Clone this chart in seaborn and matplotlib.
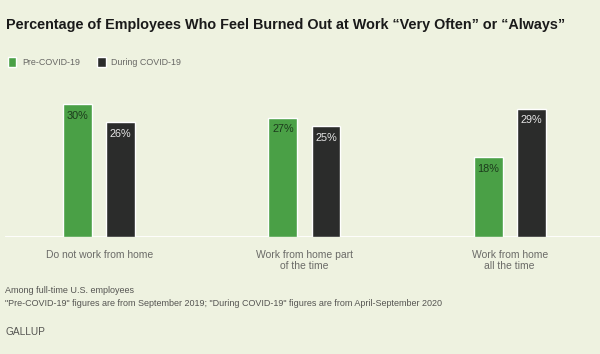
import pandas as pd
import seaborn as sns
import matplotlib.pyplot as plt

# data
groups = ["Do not work from home", "Work from home part\nof the time", "Work from home\nall the time"]
periods = ["Pre-COVID-19", "During COVID-19"]
pre_covid = [30, 27, 18]
during_covid = [26, 25, 29]

df = pd.DataFrame({
    "group": groups * 2,
    "period": [periods[0]] * 3 + [periods[1]] * 3,
    "pct": pre_covid + during_covid,
})

bg = "#eef2e0"
green = "#4aa046"
dark = "#2b2c2b"

sns.set_style("white")
plt.rcParams['font.family'] = ['Liberation Sans', 'DejaVu Sans']

fig = plt.figure(figsize=(6, 3.54), dpi=100, facecolor=bg)
ax = fig.add_axes([0.008, 0.3305, 0.992, 0.4124], facecolor=bg)

sns.barplot(data=df, x="group", y="pct", hue="period", hue_order=periods,
            palette=[green, dark], width=0.42, gap=0.33, saturation=1,
            ax=ax, legend=True)

ax.set_ylim(0, 33)
ax.set_xlim(-0.46, 2.44)
ax.axhline(0, color="white", lw=2, zorder=0.5)
for s in ax.spines.values():
    s.set_visible(False)
ax.set_yticks([])
ax.set_xlabel("")
ax.set_ylabel("")
ax.tick_params(axis="x", length=0, pad=9, labelsize=7.5, labelcolor="#6b6b68")
for lbl in ax.get_xticklabels():
    lbl.set_multialignment("center")

# value labels inside the bar tops
label_colors = ["#1c3a1c", "#e6e6e6"]
for cont, col in zip(ax.containers, label_colors):
    ax.bar_label(cont, labels=[f"{int(v)}%" for v in cont.datavalues],
                 padding=-12, fontsize=7.8, color=col)

handles, labels = ax.get_legend_handles_labels()
ax.legend(handles, labels, loc="upper left", bbox_to_anchor=(0.0, 0.862),
          bbox_transform=fig.transFigure, ncol=2, frameon=False,
          handlelength=0.95, handleheight=1.4, handletextpad=0.6,
          columnspacing=2.0, fontsize=6.4, labelcolor="#666663")

fig.text(0.01, 0.93, "Percentage of Employees Who Feel Burned Out at Work \u201cVery Often\u201d or \u201cAlways\u201d",
         fontsize=10.4, fontweight="bold", color="#1a1a1a", va="center")
fig.text(0.009, 0.178, "Among full-time U.S. employees", fontsize=6.45, color="#555552", va="center")
fig.text(0.009, 0.143, "\"Pre-COVID-19\" figures are from September 2019; \"During COVID-19\" figures are from April-September 2020",
         fontsize=6.45, color="#555552", va="center")
fig.text(0.009, 0.062, "GALLUP", fontsize=7.3, color="#555552", va="center")

fig.savefig("out.png", dpi=100, facecolor=bg)
